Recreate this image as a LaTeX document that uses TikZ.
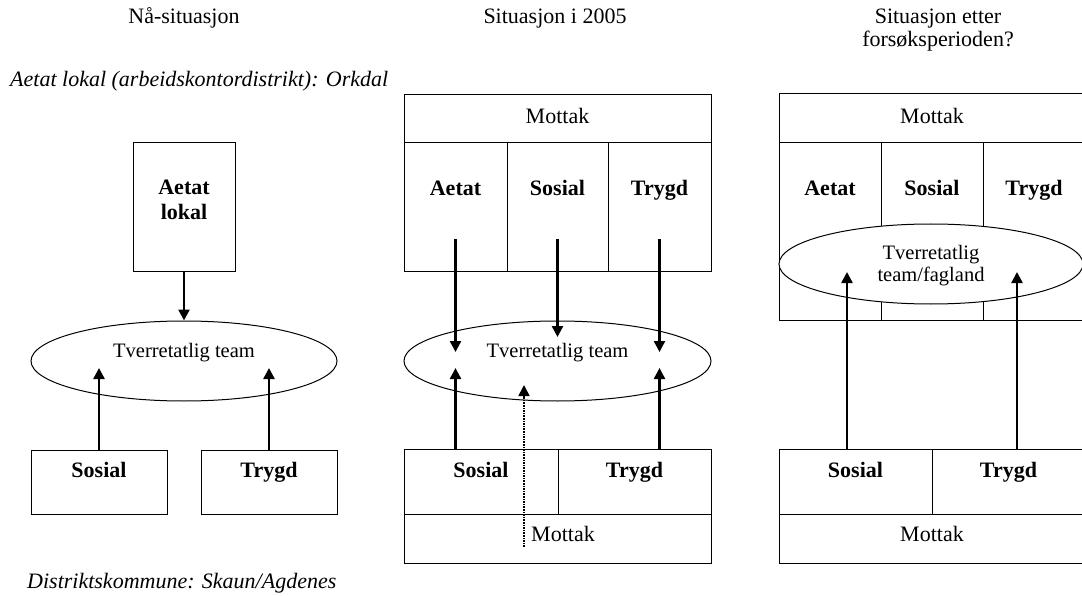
\documentclass[tikz,border=0pt]{standalone}
\usepackage{fontspec}
\setmainfont{Liberation Serif}
\usepackage{tikz}
\usetikzlibrary{arrows.meta,shapes.geometric}

\begin{document}
\begin{tikzpicture}[x=1pt, y=-1pt, >={Triangle[length=11pt,width=11pt]},
	celle/.style 2 args={draw, line width=1pt, inner sep=0pt, minimum width=#1, minimum height=#2},
	team/.style 2 args={draw, ellipse, line width=1pt, inner sep=0pt, minimum width=#1, minimum height=#2},
	tekst/.style={inner sep=0pt, anchor=base, font=\fontsize{22}{26}\selectfont},
	fet/.style={tekst, font=\fontsize{22}{26}\selectfont\bfseries},
	kursiv/.style={tekst, anchor=base west, font=\fontsize{22}{26}\selectfont\itshape},
	liten/.style={tekst, font=\fontsize{20.5}{24}\selectfont},
	pil/.style={->, line width=2.4pt},
	prikk/.style={->, line width=1.6pt, densely dotted}]
	\useasboundingbox (0,0) rectangle (1082,596);
	% overskrifter
	\node[tekst] (tittel1) at (184,24) {Nå-situasjon};
	\node[tekst] (tittel2) at (555,24) {Situasjon i 2005};
	\node[tekst] (tittel3) at (938,24) {Situasjon etter};
	\node[tekst] (tittel3b) at (938,47) {forsøksperioden?};
	\node[kursiv] (orkdal) at (10,87) {Aetat lokal (arbeidskontordistrikt): Orkdal};
	\node[kursiv] (skaun) at (27,588) {Distriktskommune: Skaun/Agdenes};
	% Nå-situasjon
	\node[celle={102pt}{129pt}] (aetat1) at (184,207.5) {};
	\node[fet] (aetat1a) at (184,195) {Aetat};
	\node[fet] (aetat1b) at (184,220) {lokal};
	\node[team={306pt}{80pt}] (team1) at (184,361) {};
	\node[liten] (team1t) at (184,357) {Tverretatlig team};
	\node[celle={136pt}{64pt}] (sosial1) at (99,482) {};
	\node[fet] (sosial1t) at (99,477) {Sosial};
	\node[celle={136pt}{64pt}] (trygd1) at (269,482) {};
	\node[fet] (trygd1t) at (269,477) {Trygd};
	\coordinate (inn1) at (0,368);
	\draw[pil] (aetat1.south) -- (team1.north);
	\draw[pil] (sosial1.north) -- (sosial1.north |- inn1);
	\draw[pil] (trygd1.north) -- (trygd1.north |- inn1);
	% Situasjon i 2005
	\node[celle={307pt}{48pt}] (mottak2) at (557.5,119) {};
	\node[tekst] (mottak2t) at (557.5,124) {Mottak};
	\node[celle={103pt}{129pt}] (aetat2) at (455.5,207.5) {};
	\node[celle={101pt}{129pt}] (sosial2) at (557.5,207.5) {};
	\node[celle={103pt}{129pt}] (trygd2) at (659.5,207.5) {};
	\node[fet] (aetat2t) at (455.5,196) {Aetat};
	\node[fet] (sosial2t) at (557.5,196) {Sosial};
	\node[fet] (trygd2t) at (659.5,196) {Trygd};
	\node[team={307pt}{80pt}] (team2) at (557.5,361) {};
	\node[liten] (team2t) at (557.5,357) {Tverretatlig team};
	\node[celle={154pt}{65pt}] (sosialb2) at (481,481.5) {};
	\node[celle={153pt}{65pt}] (trygdb2) at (634.5,481.5) {};
	\node[celle={307pt}{49pt}] (mottakb2) at (557.5,538.5) {};
	\node[fet] (sosialb2t) at (481,477) {Sosial};
	\node[fet] (trygdb2t) at (634.5,477) {Trygd};
	\node[tekst] (mottakb2t) at (563,541) {Mottak};
	\coordinate (ut2) at (0,239);
	\coordinate (ned2) at (0,352);
	\coordinate (midt2) at (0,337);
	\coordinate (opp2) at (0,368);
	\draw[pil] (aetat2.center |- ut2) -- (aetat2.center |- ned2);
	\draw[pil] (sosial2.center |- ut2) -- (sosial2.center |- midt2);
	\draw[pil] (trygd2.center |- ut2) -- (trygd2.center |- ned2);
	\draw[pil] (aetat2.center |- sosialb2.north) -- (aetat2.center |- opp2);
	\draw[pil] (trygd2.center |- trygdb2.north) -- (trygd2.center |- opp2);
	\coordinate (prikkfra) at (524,547);
	\coordinate (prikktil) at (524,385);
	\draw[prikk] (prikkfra) -- (prikktil);
	% Situasjon etter forsøksperioden
	\node[celle={306pt}{49pt}] (mottak3) at (932,118.5) {};
	\node[tekst] (mottak3t) at (932,124) {Mottak};
	\node[celle={102pt}{177pt}] (aetat3) at (830,231.5) {};
	\node[celle={102pt}{177pt}] (sosial3) at (932,231.5) {};
	\node[celle={102pt}{177pt}] (trygd3) at (1034,231.5) {};
	\node[fet] (aetat3t) at (830,196) {Aetat};
	\node[fet] (sosial3t) at (932,196) {Sosial};
	\node[fet] (trygd3t) at (1034,196) {Trygd};
	\node[team={304pt}{80pt}, fill=white] (team3) at (931,264) {};
	\node[liten] (team3a) at (931,260) {Tverretatlig};
	\node[liten] (team3b) at (931,282) {team/fagland};
	\node[celle={153pt}{65pt}] (sosialb3) at (855.5,481.5) {};
	\node[celle={153pt}{65pt}] (trygdb3) at (1008.5,481.5) {};
	\node[celle={306pt}{49pt}] (mottakb3) at (932,538.5) {};
	\node[fet] (sosialb3t) at (855.5,477) {Sosial};
	\node[fet] (trygdb3t) at (1008.5,477) {Trygd};
	\node[tekst] (mottakb3t) at (932,541) {Mottak};
	\coordinate (opp3a) at (847,272);
	\coordinate (opp3b) at (1017,272);
	\draw[pil] (opp3a |- sosialb3.north) -- (opp3a);
	\draw[pil] (opp3b |- trygdb3.north) -- (opp3b);
\end{tikzpicture}
\end{document}
